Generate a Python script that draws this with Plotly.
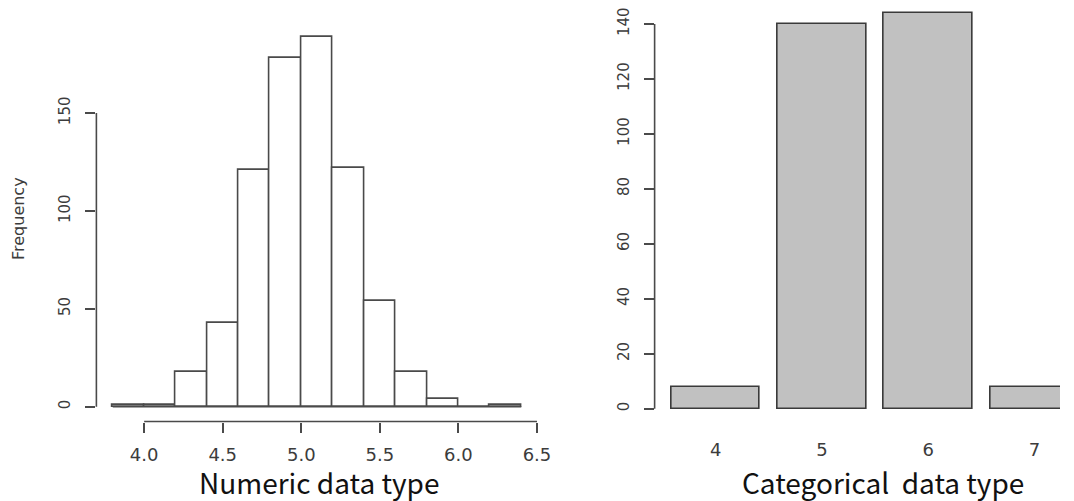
import plotly.graph_objects as go

# ---------------- data ----------------
bin_edges = [3.8, 4.0, 4.2, 4.4, 4.6, 4.8, 5.0, 5.2, 5.4, 5.6, 5.8, 6.0, 6.2, 6.4]
hist_counts = [1, 1, 18, 43, 121, 178, 189, 122, 54, 18, 4, 0, 1]
hist_xticks = [4.0, 4.5, 5.0, 5.5, 6.0, 6.5]
hist_yticks = [0, 50, 100, 150]

bar_categories = [4, 5, 6, 7]
bar_counts = [8, 140, 144, 8]
bar_yticks = [0, 20, 40, 60, 80, 100, 120, 140]

hist_xlabel = "Numeric data type"
hist_ylabel = "Frequency"
bar_xlabel = "Categorical  data type"

# ---------------- layout constants ----------------
WX, H = 1059, 501  # effective drawable width observed in the viewer, height
AX = "#4a4a4a"
TXT = "#3c3c3c"
TICKFONT = dict(family="DejaVu Sans, sans-serif", size=18, color=TXT)
YTICKFONT = dict(family="DejaVu Sans, sans-serif", size=15, color=TXT)
TITLEFONT = dict(family="Noto Sans CJK KR, Noto Sans, sans-serif", size=28, color="#111111")

L_dom_x = [96.3 / WX, 537.1 / WX]
L_dom_y = [1 - 421.5 / H, 1 - 21.9 / H]
R_dom_x = [654.0 / WX, 1.0]
R_dom_y = [1 - 424.5 / H, 1.0]
R_xrange = [3.426, 4 + (WX - 715.0) / 106.2]

centers = [(a + b) / 2 for a, b in zip(bin_edges[:-1], bin_edges[1:])]
widths = [b - a for a, b in zip(bin_edges[:-1], bin_edges[1:])]

fig = go.Figure()

# histogram bars
fig.add_trace(go.Bar(
    x=centers, y=hist_counts, width=widths,
    marker=dict(color="white", line=dict(color=AX, width=1.6)),
    xaxis="x", yaxis="y", showlegend=False, hoverinfo="x+y",
))
# baseline of histogram (zero-height bins)
fig.add_trace(go.Scatter(
    x=[bin_edges[0], bin_edges[-1]], y=[0, 0], mode="lines",
    line=dict(color=AX, width=1.6), xaxis="x", yaxis="y",
    showlegend=False, hoverinfo="skip",
))

# bar chart
fig.add_trace(go.Bar(
    x=bar_categories, y=bar_counts, width=1 / 1.2,
    marker=dict(color="#c1c1c1", line=dict(color="#3a3a3a", width=1.6)),
    xaxis="x2", yaxis="y2", showlegend=False,
))

fig.update_layout(
    autosize=True,
    margin=dict(l=0, r=0, t=0, b=0, pad=0),
    paper_bgcolor="white", plot_bgcolor="white",
    bargap=0,
    xaxis=dict(
        domain=L_dom_x, range=[3.696, 6.504], anchor="y",
        tickvals=hist_xticks, ticktext=[f"{v:.1f}" for v in hist_xticks],
        ticks="outside", ticklen=10, tickwidth=1.5, tickcolor=AX,
        ticklabelstandoff=7,
        showline=False, showgrid=False, zeroline=False, tickfont=TICKFONT,
    ),
    yaxis=dict(
        domain=L_dom_y, range=[-7.56, 196.56], anchor="x",
        tickvals=hist_yticks, ticks="outside", ticklen=10, tickwidth=1.5,
        tickcolor=AX, tickangle=-90, ticklabelstandoff=9,
        showline=False, showgrid=False, zeroline=False,
        tickfont=YTICKFONT,
    ),
    xaxis2=dict(
        domain=R_dom_x, range=R_xrange, anchor="y2",
        tickvals=bar_categories, ticktext=[str(c) for c in bar_categories],
        ticks="", ticklabelstandoff=12,
        showline=False, showgrid=False, zeroline=False, tickfont=TICKFONT,
    ),
    yaxis2=dict(
        domain=R_dom_y, range=[-5.76, 148.7], anchor="x2",
        tickvals=bar_yticks, ticks="outside", ticklen=10, tickwidth=1.5,
        tickcolor=AX, tickangle=-90, ticklabelstandoff=9,
        showline=False, showgrid=False, zeroline=False,
        tickfont=YTICKFONT,
    ),
    shapes=[
        # left y axis line spanning tick range
        dict(type="line", xref="paper", yref="y",
             x0=L_dom_x[0], x1=L_dom_x[0], y0=hist_yticks[0], y1=hist_yticks[-1],
             line=dict(color=AX, width=1.6)),
        # left x axis line spanning tick range
        dict(type="line", xref="x", yref="paper",
             x0=hist_xticks[0], x1=hist_xticks[-1], y0=L_dom_y[0], y1=L_dom_y[0],
             line=dict(color=AX, width=1.6)),
        # right y axis line spanning tick range
        dict(type="line", xref="paper", yref="y2",
             x0=R_dom_x[0], x1=R_dom_x[0], y0=bar_yticks[0], y1=bar_yticks[-1],
             line=dict(color=AX, width=1.6)),
    ],
    annotations=[
        dict(text=hist_xlabel, xref="paper", yref="paper",
             x=319 / WX, y=1 - 482 / H, xanchor="center", yanchor="middle",
             showarrow=False, font=TITLEFONT),
        dict(text=bar_xlabel, xref="paper", yref="paper",
             x=882 / WX, y=1 - 482 / H, xanchor="center", yanchor="middle",
             showarrow=False, font=TITLEFONT),
        dict(text=hist_ylabel, xref="paper", yref="paper",
             x=18 / WX, y=1 - 219 / H, xanchor="center", yanchor="middle",
             textangle=-90, showarrow=False,
             font=dict(family="DejaVu Sans, sans-serif", size=16, color=TXT)),
    ],
)

post = (
    "var gd=document.getElementById('{plot_id}');"
    "var s=document.createElement('style');"
    "s.innerHTML='html,body{margin:0;padding:0;width:100%;height:100%;overflow:hidden;}';"
    "document.head.appendChild(s);"
    "if(gd.parentNode){gd.parentNode.style.width='100%';gd.parentNode.style.height='100%';}"
    "gd.style.width='100%';gd.style.height='100%';"
    "return Plotly.Plots.resize(gd);"
)

fig.write_html(
    "out.html",
    config={"responsive": True},
    default_width="100%", default_height="100%",
    post_script=post,
)
